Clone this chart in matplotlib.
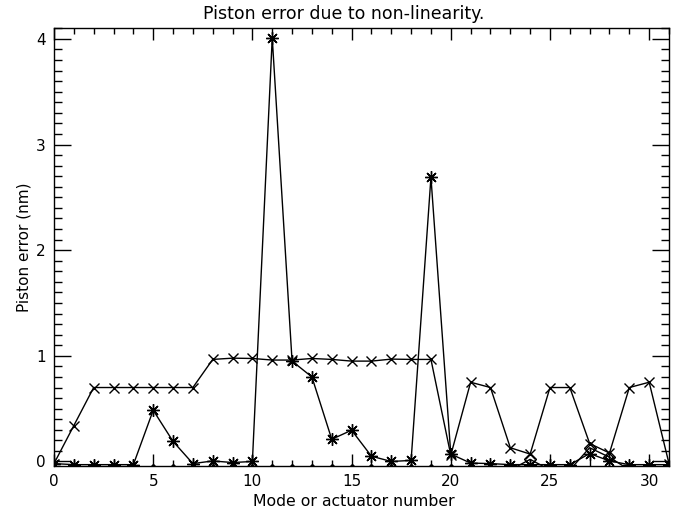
import numpy as np
import matplotlib
matplotlib.use('Agg')
import matplotlib.pyplot as plt
from matplotlib.ticker import MultipleLocator

# mode / actuator index
modes = np.arange(32)

# piston error per mode, first run (x symbols)
err_cross = [-0.02, 0.34, 0.70, 0.70, 0.70, 0.70, 0.70, 0.70,
             0.966, 0.978, 0.975, 0.96, 0.96, 0.975, 0.966, 0.95,
             0.95, 0.969, 0.966, 0.966, 0.06, 0.75, 0.70, 0.13,
             0.07, 0.70, 0.70, 0.17, 0.08, 0.70, 0.75, -0.02]

# second run (asterisks)
err_star = [-0.02, -0.03, -0.03, -0.03, -0.03, 0.485, 0.19, -0.02,
            0.005, -0.01, 0.0, 4.01, 0.95, 0.80, 0.21, 0.296,
            0.05, 0.0, 0.01, 2.69, 0.07, -0.015, -0.02, -0.03,
            -0.03, -0.03, -0.03, 0.075, 0.005, -0.03, -0.03, -0.03]

# third run (diamonds), mostly below the visible range
err_diam = [-0.08] * 24 + [0.02, -0.08, -0.08, 0.13, 0.04, -0.08, -0.08, -0.08]

plt.rcParams['font.family'] = ['DejaVu Sans']
fig = plt.figure(figsize=(6.88, 5.13), dpi=100)
ax = fig.add_axes([0.0785, 0.0922, 0.8939, 0.8526])

ax.plot(modes, err_cross, color='black', lw=1, marker='x', ms=7.5, mew=1)
ax.plot(modes, err_star, color='black', lw=1, marker=(8, 2, 0), ms=9, mew=1)
ax.plot(modes, err_diam, color='black', lw=1, marker='D', ms=6, mew=1,
        fillstyle='none')

ax.set_xlim(0, 31)
ax.set_ylim(-0.04, 4.1)
ax.xaxis.set_major_locator(MultipleLocator(5))
ax.xaxis.set_minor_locator(MultipleLocator(1))
ax.yaxis.set_major_locator(MultipleLocator(1))
ax.yaxis.set_minor_locator(MultipleLocator(0.1))
ax.tick_params(which='both', direction='in', top=True, right=True,
               labelsize=11, width=1, color='black')
ax.tick_params(axis='x', which='major', length=8.5, pad=6)
ax.tick_params(axis='x', which='minor', length=4.3)
ax.tick_params(axis='y', which='major', length=12, pad=6)
ax.tick_params(axis='y', which='minor', length=6)
for s in ax.spines.values():
    s.set_linewidth(1)

ax.set_title('Piston error due to non-linearity.', fontsize=12.5, pad=7, x=0.471)
ax.set_xlabel('Mode or actuator number', fontsize=11.3, labelpad=1)
ax.xaxis.set_label_coords(0.488, -0.065)
ax.set_ylabel('Piston error (nm)', fontsize=11, labelpad=3)

fig.savefig('out.png', dpi=100)
